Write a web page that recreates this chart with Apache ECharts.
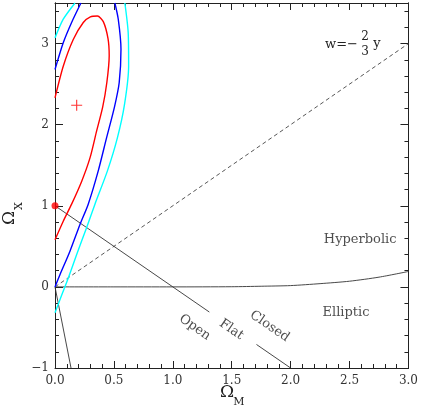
<!DOCTYPE html>
<html><head><meta charset="utf-8">
<script src="https://cdn.jsdelivr.net/npm/echarts@6/dist/echarts.min.js"></script>
<style>html,body{margin:0;padding:0;background:#fff}#c{width:421px;height:415px}</style>
</head><body><div id="c"></div>
<script>
// ---- data ----
const xRange = [0, 3];
const yRange = [-1, 3.5];
const redContour = [[0,2.33],[0.07,2.72],[0.155,3.05],[0.24,3.26],[0.30,3.33],[0.36,3.34],[0.41,3.27],[0.45,3.06],[0.46,2.85],[0.44,2.52],[0.405,2.22],[0.353,1.92],[0.297,1.59],[0.226,1.30],[0.141,1.02],[0.07,0.81],[0,0.58]];
const blueContourA = [[0,0],[0.042,0.15],[0.127,0.44],[0.212,0.77],[0.282,1.02],[0.367,1.43],[0.438,1.84],[0.505,2.22],[0.545,2.52],[0.560,2.93],[0.537,3.30],[0.508,3.5]];
const blueContourB = [[0,2.68],[0.07,3.01],[0.141,3.26],[0.22,3.5]];
const cyanContourA = [[0,-0.32],[0.057,-0.10],[0.113,0.11],[0.184,0.40],[0.268,0.73],[0.339,1.02],[0.445,1.43],[0.530,1.84],[0.590,2.25],[0.625,2.72],[0.621,3.14],[0.593,3.5]];
const cyanContourB = [[0,3.07],[0.07,3.30],[0.17,3.5]];
const boundaryCurve = [[0,0],[0.5,0],[1,0],[1.5,0.002],[1.75,0.008],[2.0,0.016],[2.25,0.04],[2.5,0.07],[2.75,0.12],[3.0,0.19]];
const flatLineA = [[0,1],[1.31,-0.31]];
const flatLineB = [[1.71,-0.71],[2,-1]];
const lowerLine = [[0,0],[0.136,-1]];
const wLine = [[0,0],[3,3]];
const bestFit = [[0.184,2.24]];
const dotPoint = [[0,1]];
const regionLabels = [
  {name:'Hyperbolic', value:[2.59,0.58], rot:0},
  {name:'Elliptic', value:[2.47,-0.32], rot:0},
  {name:'Open', value:[1.186,-0.50], rot:-34.5},
  {name:'Flat', value:[1.497,-0.527], rot:-34.5},
  {name:'Closed', value:[1.822,-0.486], rot:-34.5}
];

// ---- chart ----
const FONT = 'DejaVu Serif';
const AX = '#222';
const chart = echarts.init(document.getElementById('c'));
const grid = {left:55, right:12, top:3, bottom:47};
function xa(pos, labels, interval, tickLen, minor){
  return {type:'value', min:xRange[0], max:xRange[1], interval:interval, position:pos,
    axisLine:{show:true, onZero:false, lineStyle:{color:AX, width:1}},
    axisTick:{show:true, inside:true, length:tickLen, lineStyle:{color:AX}},
    minorTick:{show:!!minor, splitNumber:5, length:4, lineStyle:{color:AX}},
    splitLine:{show:false}, minorSplitLine:{show:false},
    axisLabel:{show:labels, margin:7, color:'#333', fontFamily:FONT, fontSize:12, formatter:v=>v.toFixed(1)}};
}
function ya(pos, labels, interval, tickLen){
  return {type:'value', min:yRange[0], max:yRange[1], interval:interval, position:pos,
    axisLine:{show:true, onZero:false, lineStyle:{color:AX, width:1}},
    axisTick:{show:true, inside:true, length:tickLen, lineStyle:{color:AX}},
    splitLine:{show:false},
    axisLabel:{show:labels, margin:6, color:'#333', fontFamily:FONT, fontSize:12,
      formatter:v=> (Math.abs(v-Math.round(v))<1e-9 ? String(Math.round(v)).replace('-','\u2212') : '')}};
}
function lineSeries(data, color, width, type){
  return {type:'line', data:data, xAxisIndex:0, yAxisIndex:0, showSymbol:false, symbol:'none',
    smooth: data.length>2 ? 0.25 : false, clip:true, silent:true,
    lineStyle:{color:color, width:width, type:type||'solid'}, z:2};
}
const option = {
  animation:false,
  grid:grid,
  xAxis:[xa('bottom', true, 0.5, 7, true), xa('top', false, 0.5, 7, true)],
  yAxis:[ya('left', true, 1, 8), ya('right', false, 1, 8), ya('left', false, 0.2, 4), ya('right', false, 0.2, 4)],
  series:[
    lineSeries(wLine, '#444', 0.9, [4,3]),
    lineSeries(boundaryCurve, '#333', 0.9),
    lineSeries(flatLineA, '#333', 0.9),
    lineSeries(flatLineB, '#333', 0.9),
    lineSeries(lowerLine, '#333', 0.9),
    lineSeries(cyanContourA, '#00ffff', 1.4),
    lineSeries(cyanContourB, '#00ffff', 1.4),
    lineSeries(blueContourA, '#0000ff', 1.4),
    lineSeries(blueContourB, '#0000ff', 1.4),
    lineSeries(redContour, '#ff0000', 1.4),
    {type:'scatter', data:dotPoint, symbol:'circle', symbolSize:7, itemStyle:{color:'#ff0000'}, z:5, silent:true, clip:false},
    {type:'scatter', data:bestFit, symbol:'path://M0,5L10,5M5,0L5,10', symbolSize:11,
      itemStyle:{color:'transparent', borderColor:'#ff0000', borderWidth:1.1}, z:5, silent:true},
    {type:'scatter', data:regionLabels.map(d=>({name:d.name, value:d.value, label:{rotate:d.rot}})),
      symbolSize:0, silent:true, z:6,
      label:{show:true, position:'inside', formatter:p=>p.name, fontFamily:FONT, fontSize:13, color:'#222'}}
  ]
};
chart.setOption(option);

// text annotations (axis titles with subscripts, w label with fraction)
const T = (text, x, y, size, extra) => Object.assign({type:'text', x:x, y:y,
  style:{text:text, fontFamily:FONT, fontSize:size, fill:'#222', align:'center', verticalAlign:'middle'}}, extra||{});
chart.setOption({graphic:[
  T('\u03a9', 227, 393, 17),
  T('M', 239, 402, 11),
  {type:'group', x:10, y:218, rotation:Math.PI/2, children:[
    T('\u03a9', 0, 0, 17),
    T('X', 12, 9, 11)
  ]},
  {type:'text', x:358, y:45, style:{text:'w=\u2212', fontFamily:FONT, fontSize:13, fill:'#222', align:'right', verticalAlign:'middle'}},
  T('2', 365, 37, 12),
  T('3', 365, 52, 12),
  T('y', 377, 44, 13)
]});
</script></body></html>
